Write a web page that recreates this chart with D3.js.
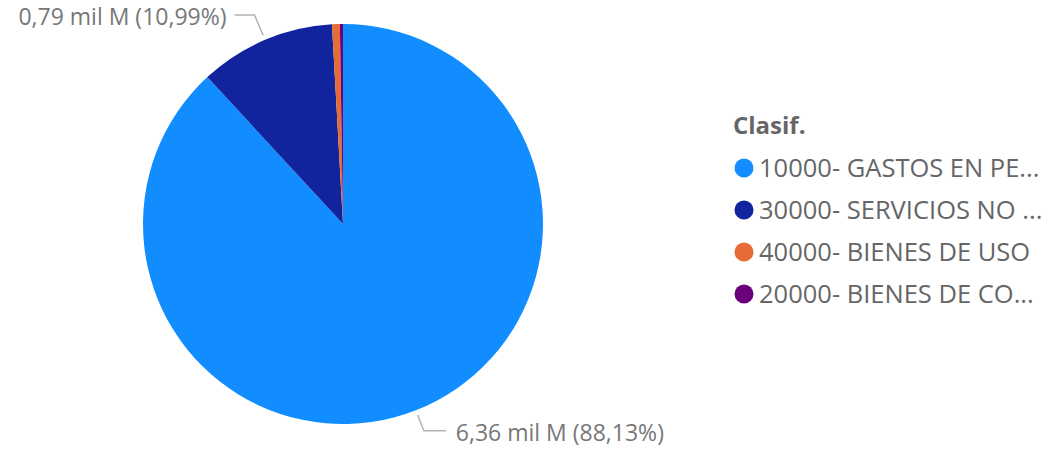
<!DOCTYPE html>
<html><head><meta charset="utf-8">
<script src="https://cdn.jsdelivr.net/npm/d3@7"></script>
<style>body{margin:0;background:#fff;}svg{display:block;font-family:"Open Sans","Segoe UI",sans-serif;}</style>
</head><body>
<svg id="c" width="1053" height="453"></svg>
<script>
const categories = ["10000- GASTOS EN PE...", "30000- SERVICIOS NO ...", "40000- BIENES DE USO", "20000- BIENES DE CO..."];
const values = [6.36, 0.793, 0.0455, 0.018];
const colors = ["#118DFF", "#12239E", "#E66C37", "#6B007B"];
const labelTexts = ["6,36 mil M (88,13%)", "0,79 mil M (10,99%)", null, null];
const legendTitle = "Clasif.";

const svg = d3.select("#c");
const cx = 343, cy = 224, R = 200;
const pie = d3.pie().sort(null).value(d => d)(values);
const arc = d3.arc().innerRadius(0).outerRadius(R);
const g = svg.append("g").attr("transform", `translate(${cx},${cy})`);
g.selectAll("path").data(pie).join("path").attr("d", arc).attr("fill", (d,i) => colors[i]);

// labels with leader lines
const lab = svg.append("g");
pie.forEach((d, i) => {
  if (!labelTexts[i]) return;
  const a = (d.startAngle + d.endAngle) / 2;
  const right = Math.sin(a) > 0;
  const r1 = right ? R + 22 : R + 227 - R;
  const p0 = [cx + (R + 5) * Math.sin(a), cy - (R + 5) * Math.cos(a)];
  const p1 = [cx + r1 * Math.sin(a), cy - r1 * Math.cos(a)];
  const p2 = [p1[0] + (right ? 22 : -20), p1[1]];
  lab.append("polyline").attr("points", [p0, p1, p2].map(p => p.join(",")).join(" "))
    .attr("fill", "none").attr("stroke", "#b3b3b3").attr("stroke-width", 1.5);
  lab.append("text").attr("x", p2[0] + (right ? 10 : -8)).attr("y", p2[1] + 2)
    .attr("dy", "0.35em").attr("text-anchor", right ? "start" : "end")
    .attr("fill", "#777").attr("font-size", 23).text(labelTexts[i]);
});

// legend
const lg = svg.append("g");
lg.append("text").attr("x", 733).attr("y", 126).attr("dy", "0.35em")
  .attr("font-weight", "bold").attr("font-size", 24).attr("fill", "#666").text(legendTitle);
categories.forEach((c, i) => {
  const y = 168 + i * 42;
  lg.append("circle").attr("cx", 744).attr("cy", y).attr("r", 9.5).attr("fill", colors[i]);
  lg.append("text").attr("x", 759).attr("y", y).attr("dy", "0.35em")
    .attr("font-size", 25.5).attr("fill", "#666").text(c);
});
</script>
</body></html>
